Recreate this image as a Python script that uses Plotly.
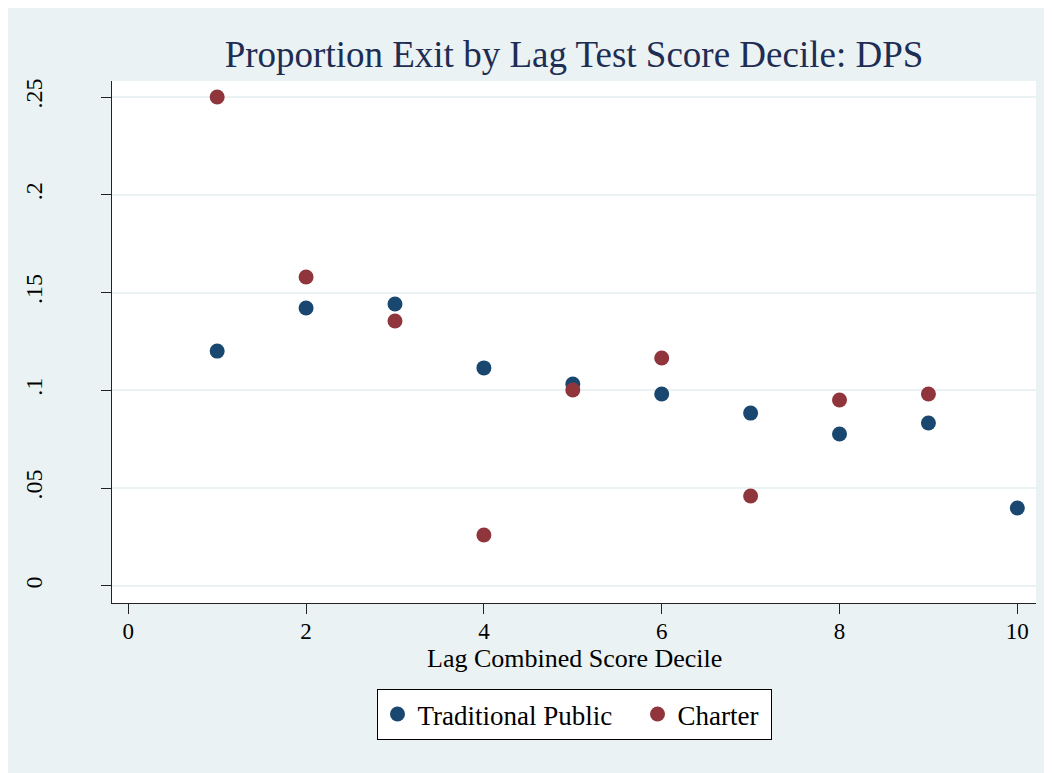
import plotly.graph_objects as go

# Data
deciles = [1, 2, 3, 4, 5, 6, 7, 8, 9, 10]
traditional_public = [0.1201, 0.1421, 0.1442, 0.1115, 0.1033, 0.0982, 0.0884, 0.0777, 0.0833, 0.0399]
charter_deciles = [1, 2, 3, 4, 5, 6, 7, 8, 9]
charter = [0.2500, 0.1580, 0.1355, 0.0261, 0.1002, 0.1166, 0.0460, 0.0951, 0.0982]

y_tickvals = [0, 0.05, 0.1, 0.15, 0.2, 0.25]
y_ticktext = ["0", ".05", ".1", ".15", ".2", ".25"]
x_tickvals = [0, 2, 4, 6, 8, 10]

BG = "#EAF2F3"
NAVY = "#1A476F"
MAROON = "#90353B"
FONT = "Liberation Serif, Times New Roman, serif"

W, H = 1052, 773
L, R, T, B = 104, 24, 73, 178

fig = go.Figure()
fig.add_trace(go.Scatter(x=deciles, y=traditional_public, mode="markers",
                         name="Traditional Public\u00a0\u00a0\u00a0",
                         marker=dict(color=NAVY, size=15)))
fig.add_trace(go.Scatter(x=charter_deciles, y=charter, mode="markers",
                         name="Charter\u00a0",
                         marker=dict(color=MAROON, size=15)))

ph = H - T - B

def px_y(p):
    # p: pixel y in figure coordinates
    return (H - B - p) / ph

fig.update_layout(
    width=W, height=H,
    margin=dict(l=L, r=R, t=T, b=B, autoexpand=False),
    paper_bgcolor=BG,
    plot_bgcolor="white",
    font=dict(family=FONT, color="black", size=22),
    title=dict(text="Proportion Exit by Lag Test Score Decile: DPS",
               x=0.5, xref="paper", xanchor="center",
               y=1 - 46 / H, yref="container", yanchor="middle",
               font=dict(family=FONT, size=37, color="#1E2D53")),
    xaxis=dict(range=[-0.183, 10.21], tickvals=x_tickvals,
               showgrid=False, zeroline=False,
               showline=True, linecolor="#222222", linewidth=1,
               ticks="outside", ticklen=10, tickcolor="#222222", tickwidth=1,
               ticklabelstandoff=-3,
               tickfont=dict(family=FONT, size=23, color="black"),
               automargin=False, fixedrange=True),
    yaxis=dict(range=[-0.0087, 0.2582], tickvals=y_tickvals, ticktext=y_ticktext,
               showgrid=True, gridcolor=BG, gridwidth=2,
               zeroline=False,
               showline=True, linecolor="#222222", linewidth=1,
               ticks="outside", ticklen=10, tickcolor="#222222", tickwidth=1,
               tickangle=-90, ticklabelstandoff=49,
               tickfont=dict(family=FONT, size=24, color="black"),
               automargin=False, fixedrange=True),
    annotations=[dict(text="Lag Combined Score Decile", xref="paper", yref="paper",
                      x=0.5, xanchor="center", y=px_y(650), yanchor="middle",
                      showarrow=False,
                      font=dict(family=FONT, size=26, color="black"))],
    legend=dict(orientation="h", x=0.5, xanchor="center",
                y=px_y(681), yanchor="top",
                bgcolor="white", bordercolor="black", borderwidth=1,
                font=dict(family=FONT, size=27, color="black"),
                itemclick=False, itemdoubleclick=False),
    showlegend=True,
)

fig.write_html("out.html")
